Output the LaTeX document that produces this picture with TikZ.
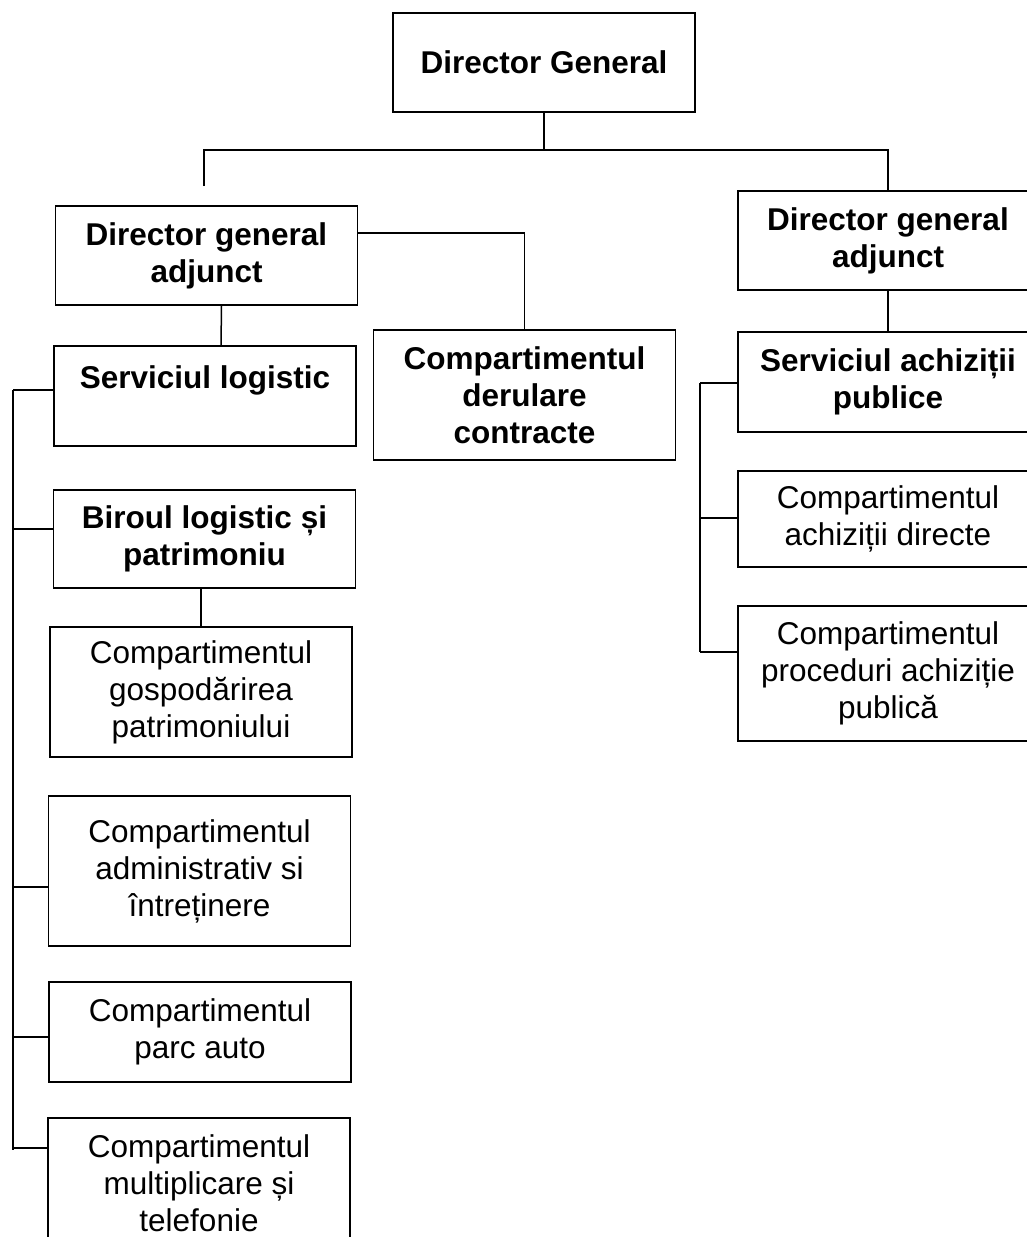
\documentclass[tikz,border=0pt]{standalone}
\usepackage{fontspec}
\setmainfont{Liberation Sans}
\tikzset{
  unit/.style={draw, line width=0.9pt, minimum width=151pt, inner sep=0pt, align=center, font=\fontsize{15.75}{18.5}\selectfont},
  head/.style={unit, font=\fontsize{15.75}{18.5}\selectfont\bfseries},
  link/.style={line width=0.75pt}
}
\begin{document}
\begin{tikzpicture}[x=0.5pt,y=-0.5pt]
\useasboundingbox (0,0) rectangle (1027,1237);
\node [head, minimum height=49.5pt] (dg) at (544,62.5) {Director General};
\node [head, minimum height=49.5pt] (dgaL) at (206.5,255.5) {Director general\\adjunct};
\node [head, minimum height=50pt] (servL) at (205,396) {Serviciul logistic\\\phantom{S}};
\node [head, minimum height=65pt] (derul) at (524.5,395) {Compartimentul\\derulare\\contracte};
\node [head, minimum height=49pt] (birou) at (204.5,539) {Biroul logistic și\\patrimoniu};
\node [unit, minimum height=65pt] (gosp) at (201,692) {Compartimentul\\gospodărirea\\patrimoniului};
\node [unit, minimum height=75pt] (admin) at (199.5,871) {Compartimentul\\administrativ si\\întreținere};
\node [unit, minimum height=50pt] (parc) at (200,1032) {Compartimentul\\parc auto};
\node [unit, minimum height=65pt] (mult) at (199,1183) {Compartimentul\\multiplicare și\\telefonie};
\node [head, minimum height=49.5pt, minimum width=150pt] (dgaR) at (888,240.5) {Director general\\adjunct};
\node [head, minimum height=50pt, minimum width=150pt] (servA) at (888,382) {Serviciul achiziții\\publice};
\node [unit, minimum height=48pt, minimum width=150pt] (achD) at (888,519) {Compartimentul\\achiziții directe};
\node [unit, minimum height=67.5pt, minimum width=150pt] (proc) at (888,673.5) {Compartimentul\\proceduri achiziție\\publică};
\coordinate (bus) at (544,150);
\coordinate (busL) at (204,186);
\draw [link] (dg.south) -- (bus);
\draw [link] (busL) |- (bus) -| (dgaR.north);
\draw [link] ([xshift=7.5pt]dgaL.south) -- ([xshift=8pt]servL.north);
\draw [link] ([yshift=11.25pt]dgaL.east) -| (derul.north);
\draw [link] (gosp.north) -- (gosp.north |- birou.south);
\draw [link] (dgaR.south) -- (servA.north);
\coordinate (spineL) at (13,390);
\coordinate (spineLend) at (13,1150);
\draw [link] (spineL) -- (spineLend);
\foreach \n/\y in {servL/390, birou/529, admin/887, parc/1037, mult/1148}{
  \path (13,\y) coordinate (tk);
  \draw [link] (tk) -- (tk -| \n.west);
}
\coordinate (spineR) at (700,383);
\coordinate (spineRend) at (700,652);
\draw [link] (spineR) -- (spineRend);
\foreach \n/\y in {servA/383, achD/518, proc/652}{
  \path (700,\y) coordinate (tk);
  \draw [link] (tk) -- (tk -| \n.west);
}
\end{tikzpicture}
\end{document}
